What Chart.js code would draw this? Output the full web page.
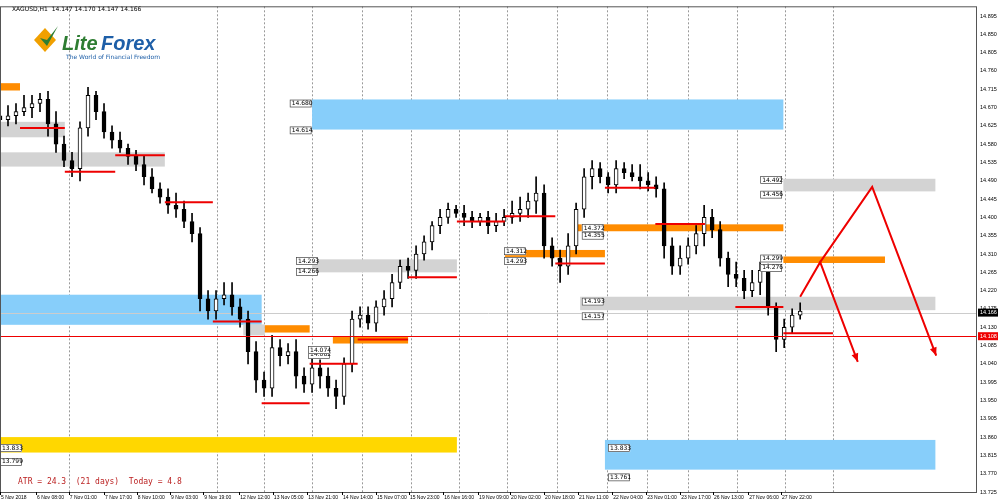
<!DOCTYPE html>
<html><head><meta charset="utf-8">
<script src="https://cdn.jsdelivr.net/npm/chart.js@4"></script>
<style>html,body{margin:0;padding:0;background:#fff}#w{width:1000px;height:504px;position:relative}</style>
</head><body><div id="w"><canvas id="c"></canvas></div>
<script>
const closes=[14.64,14.65,14.66,14.67,14.68,14.69,14.63,14.58,14.54,14.52,14.62,14.70,14.66,14.61,14.59,14.57,14.55,14.53,14.50,14.47,14.45,14.43,14.42,14.39,14.36,14.20,14.17,14.20,14.21,14.18,14.15,14.07,14.00,13.98,14.08,14.06,14.07,14.01,13.99,14.03,14.01,13.98,13.96,14.04,14.15,14.16,14.14,14.18,14.20,14.24,14.28,14.27,14.31,14.34,14.38,14.40,14.42,14.41,14.40,14.39,14.40,14.38,14.39,14.40,14.41,14.42,14.44,14.46,14.33,14.30,14.28,14.33,14.42,14.50,14.52,14.50,14.48,14.52,14.51,14.50,14.49,14.48,14.47,14.33,14.28,14.30,14.33,14.36,14.40,14.37,14.30,14.26,14.25,14.22,14.24,14.27,14.18,14.10,14.13,14.16,14.17];
const wicks=[0.02,0.015,0.02,0.01,0.025,0.02,0.03,0.02,0.015,0.02,0.03,0.02,0.02,0.015,0.02,0.01,0.02,0.015,0.02,0.01,0.015,0.02,0.02,0.015,0.02,0.03,0.02,0.02,0.015,0.02,0.02,0.03,0.03,0.02,0.02,0.025,0.02,0.03,0.02,0.02,0.03,0.02,0.03,0.02,0.02,0.02,0.015,0.02,0.02,0.02,0.015,0.02,0.02,0.015,0.02,0.02,0.015,0.01,0.02,0.015,0.01,0.02,0.015,0.01,0.015,0.02,0.02,0.03,0.03,0.02,0.04,0.02,0.02,0.02,0.03,0.015,0.02,0.02,0.015,0.01,0.02,0.015,0.02,0.03,0.02,0.02,0.015,0.02,0.03,0.02,0.02,0.03,0.02,0.02,0.015,0.03,0.02,0.03,0.02,0.015,0.01];
const tickPrices=[13.725,13.770,13.815,13.860,13.905,13.950,13.995,14.040,14.085,14.130,14.175,14.220,14.265,14.310,14.355,14.400,14.445,14.490,14.535,14.580,14.625,14.670,14.715,14.760,14.805,14.850,14.895];
const xLabels=["5 Nov 2018","6 Nov 08:00","7 Nov 01:00","7 Nov 17:00","8 Nov 10:00","9 Nov 03:00","9 Nov 19:00","12 Nov 12:00","13 Nov 05:00","13 Nov 21:00","14 Nov 14:00","15 Nov 07:00","15 Nov 23:00","16 Nov 16:00","19 Nov 09:00","20 Nov 02:00","20 Nov 18:00","21 Nov 11:00","22 Nov 04:00","23 Nov 01:00","23 Nov 17:00","26 Nov 13:00","27 Nov 06:00","27 Nov 22:00"];
const xLabelPos=[0,4.5,8.6,13,17.1,21.25,25.4,29.9,34.1,38.4,42.75,47,51.1,55.4,59.75,63.75,68,72.25,76.5,80.75,85,89.1,93.5,97.6];
const vlines=[8.6,27.1,33,39,45.2,51.4,57.4,63.4,69.6,75.8,80.8,86,92.1,98.1,104.1];
const zones=[
[0,2.5,14.730,14.712,'#ff8c00'],[0,8.1,14.635,14.597,'#d3d3d3'],[0,20.6,14.560,14.525,'#d3d3d3'],
[0,32.7,14.210,14.136,'#87cefa'],[30.4,33.1,14.137,14.110,'#d3d3d3'],[33.1,38.7,14.135,14.117,'#ff8c00'],
[41.6,51,14.106,14.090,'#ff8c00'],[0,57.1,13.860,13.822,'#ffd700'],[39,97.9,14.690,14.616,'#87cefa'],
[39,57.1,14.297,14.265,'#d3d3d3'],[63.1,75.6,14.320,14.302,'#ff8c00'],[71.9,97.9,14.383,14.366,'#ff8c00'],
[72.5,116.9,14.205,14.172,'#d3d3d3'],[97.9,116.9,14.495,14.464,'#d3d3d3'],[97.9,110.6,14.304,14.288,'#ff8c00'],
[75.6,116.9,13.853,13.780,'#87cefa']];
const redSegs=[[2.5,8.1,14.620],[8.1,14.4,14.512],[14.4,20.6,14.553],[20.6,26.6,14.437],[26.6,32.7,14.144],[32.7,38.7,13.943],[38.7,44.7,14.040],[44.7,51,14.100],[51,57.1,14.253],[57.1,63.1,14.390],[63.1,69.4,14.403],[69.4,75.6,14.287],[75.6,81.9,14.473],[81.9,88.1,14.384],[91.9,97.9,14.180],[97.9,104.1,14.115]];
const redLine=14.108;
const arrows=[[[100,14.205],[102.5,14.290],[107.2,14.045]],[[102.5,14.290],[109,14.475],[117,14.060]]];
const boxLabels=[[36.2,14.680,'14.680'],[36.2,14.614,'14.614'],[37,14.293,'14.293'],[37,14.266,'14.266'],[63,14.317,'14.312'],[63,14.293,'14.293'],[72.7,14.374,'14.372'],[72.7,14.355,'14.355'],[72.7,14.193,'14.193'],[72.7,14.157,'14.157'],[38.5,14.062,'14.062'],[38.5,14.074,'14.074'],[95,14.492,'14.492'],[95,14.456,'14.456'],[95,14.299,'14.299'],[95,14.276,'14.276'],[76,13.833,'13.833'],[76,13.761,'13.761'],[0,13.833,'13.833'],[0,13.799,'13.799']];
const opens=closes.map((c,i)=>i?closes[i-1]:c+0.01);
const bodies=closes.map((c,i)=>({x:i,y:[opens[i],c]}));
const wickD=closes.map((c,i)=>({x:i,y:[Math.min(opens[i],c)-wicks[i],Math.max(opens[i],c)+wicks[(i+3)%wicks.length]]}));
const over={id:'over',beforeDatasetsDraw(ch){const {ctx,scales:{x,y},chartArea:a}=ch;ctx.save();
 ctx.beginPath();ctx.rect(a.left,a.top,a.width,a.height);ctx.clip();
 ctx.strokeStyle='#999';ctx.setLineDash([2,2]);ctx.lineWidth=1;
 vlines.forEach(v=>{const px=Math.round(x.getPixelForValue(v))+.5;ctx.beginPath();ctx.moveTo(px,a.top);ctx.lineTo(px,a.bottom);ctx.stroke();});
 ctx.setLineDash([]);
 zones.forEach(z=>{ctx.fillStyle=z[4];const x0=x.getPixelForValue(z[0]),x1=x.getPixelForValue(z[1]),y0=y.getPixelForValue(z[2]),y1=y.getPixelForValue(z[3]);ctx.fillRect(x0,y0,x1-x0,y1-y0);});
 ctx.strokeStyle='#ccc';ctx.beginPath();const cy=Math.round(y.getPixelForValue(14.166))+.5;ctx.moveTo(a.left,cy);ctx.lineTo(a.right,cy);ctx.stroke();
 ctx.restore();},
afterDatasetsDraw(ch){const {ctx,scales:{x,y},chartArea:a}=ch;ctx.save();
 ctx.strokeStyle='#e00';ctx.lineWidth=2;
 redSegs.forEach(s=>{const py=y.getPixelForValue(s[2]);ctx.beginPath();ctx.moveTo(x.getPixelForValue(s[0]),py);ctx.lineTo(x.getPixelForValue(s[1]),py);ctx.stroke();});
 ctx.strokeStyle='#e00';ctx.lineWidth=1.2;const ry=Math.round(y.getPixelForValue(redLine))+.5;ctx.beginPath();ctx.moveTo(a.left,ry);ctx.lineTo(a.right,ry);ctx.stroke();
 ctx.lineWidth=2;
 arrows.forEach(ar=>{ctx.beginPath();ar.forEach((p,i)=>{const px=x.getPixelForValue(p[0]),py=y.getPixelForValue(p[1]);i?ctx.lineTo(px,py):ctx.moveTo(px,py);});ctx.stroke();
  const p1=ar[1],p2=ar[2];const x1=x.getPixelForValue(p1[0]),y1=y.getPixelForValue(p1[1]),x2=x.getPixelForValue(p2[0]),y2=y.getPixelForValue(p2[1]);const an=Math.atan2(y2-y1,x2-x1);
  ctx.fillStyle='#e00';ctx.beginPath();ctx.moveTo(x2,y2);ctx.lineTo(x2-9*Math.cos(an-0.4),y2-9*Math.sin(an-0.4));ctx.lineTo(x2-9*Math.cos(an+0.4),y2-9*Math.sin(an+0.4));ctx.fill();});
 ctx.font='6px DejaVu Sans';ctx.textBaseline='middle';
 boxLabels.forEach(b=>{const px=x.getPixelForValue(b[0]),py=y.getPixelForValue(b[1]);ctx.fillStyle='#fff';ctx.fillRect(px,py-4,22,8);ctx.strokeStyle='#444';ctx.lineWidth=.7;ctx.strokeRect(px+.5,py-3.5,21,7);ctx.fillStyle='#000';ctx.fillText(b[2],px+2,py);});
 ctx.strokeStyle='#555';ctx.lineWidth=1;ctx.strokeRect(a.left+.5,a.top+.5,a.width-1,a.height);
 ctx.fillStyle='#000';ctx.font='5px Liberation Sans';ctx.textBaseline='top';
 xLabelPos.forEach((v,i)=>{const px=x.getPixelForValue(v);ctx.fillText(xLabels[i],px+1,a.bottom+3);ctx.fillRect(Math.round(px),a.bottom,1,3);});
 ctx.textBaseline='middle';
 const tag=(p,bg,t)=>{const py=y.getPixelForValue(p);ctx.fillStyle=bg;ctx.fillRect(a.right+1,py-4,20,8);ctx.fillStyle='#fff';ctx.font='5.5px Liberation Sans';ctx.fillText(t,a.right+3,py);};
 tag(14.166,'#000','14.166');tag(14.108,'#e00','14.108');
 ctx.fillStyle='#000';ctx.font='6px DejaVu Sans';ctx.fillText('XAGUSD,H1  14.147 14.170 14.147 14.166',a.left+12,a.top+3);
 ctx.fillStyle='#b22';ctx.font='8px DejaVu Sans Mono';ctx.fillText('ATR = 24.3  (21 days)  Today = 4.8',a.left+18,a.bottom-10);
 ctx.font='bold italic 20px Liberation Sans';ctx.fillStyle='#2e7d32';ctx.fillText('Lite',62,44);ctx.fillStyle='#1e5fa8';ctx.fillText('Forex',101,44);
 ctx.font='6px DejaVu Sans';ctx.fillStyle='#1e5fa8';ctx.fillText('The World of Financial Freedom',66,57);
 ctx.fillStyle='#f0a000';ctx.beginPath();ctx.moveTo(34,40);ctx.lineTo(45,28);ctx.lineTo(56,40);ctx.lineTo(45,52);ctx.fill();
 ctx.fillStyle='#2e7d32';ctx.beginPath();ctx.moveTo(40,38);ctx.lineTo(47,46);ctx.lineTo(58,26);ctx.lineTo(47,40);ctx.fill();
 ctx.restore();}};
new Chart(document.getElementById('c'),{type:'bar',
data:{datasets:[
 {data:wickD,backgroundColor:'#000',barThickness:1,grouped:false,order:2},
 {data:bodies,backgroundColor:bodies.map(b=>b.y[1]>=b.y[0]?'#fff':'#000'),borderColor:'#000',borderWidth:1,borderSkipped:false,barThickness:4,grouped:false,order:1}]},
options:{responsive:true,maintainAspectRatio:false,animation:false,layout:{padding:{left:0,top:5,right:0,bottom:12}},
 plugins:{legend:{display:false},tooltip:{enabled:false}},
 scales:{x:{type:'linear',display:false,min:0,max:122.1,offset:false},
  y:{position:'right',min:13.725,max:14.919,grid:{display:false,drawTicks:false,tickLength:0},border:{display:false},
   afterBuildTicks(s){s.ticks=tickPrices.map(v=>({value:v}));},
   afterFit(s){s.width=23;},
   ticks:{padding:3,font:{size:5.5,family:'Liberation Sans'},color:'#000',callback:v=>v.toFixed(3)}}}},
plugins:[over]});
</script></body></html>
